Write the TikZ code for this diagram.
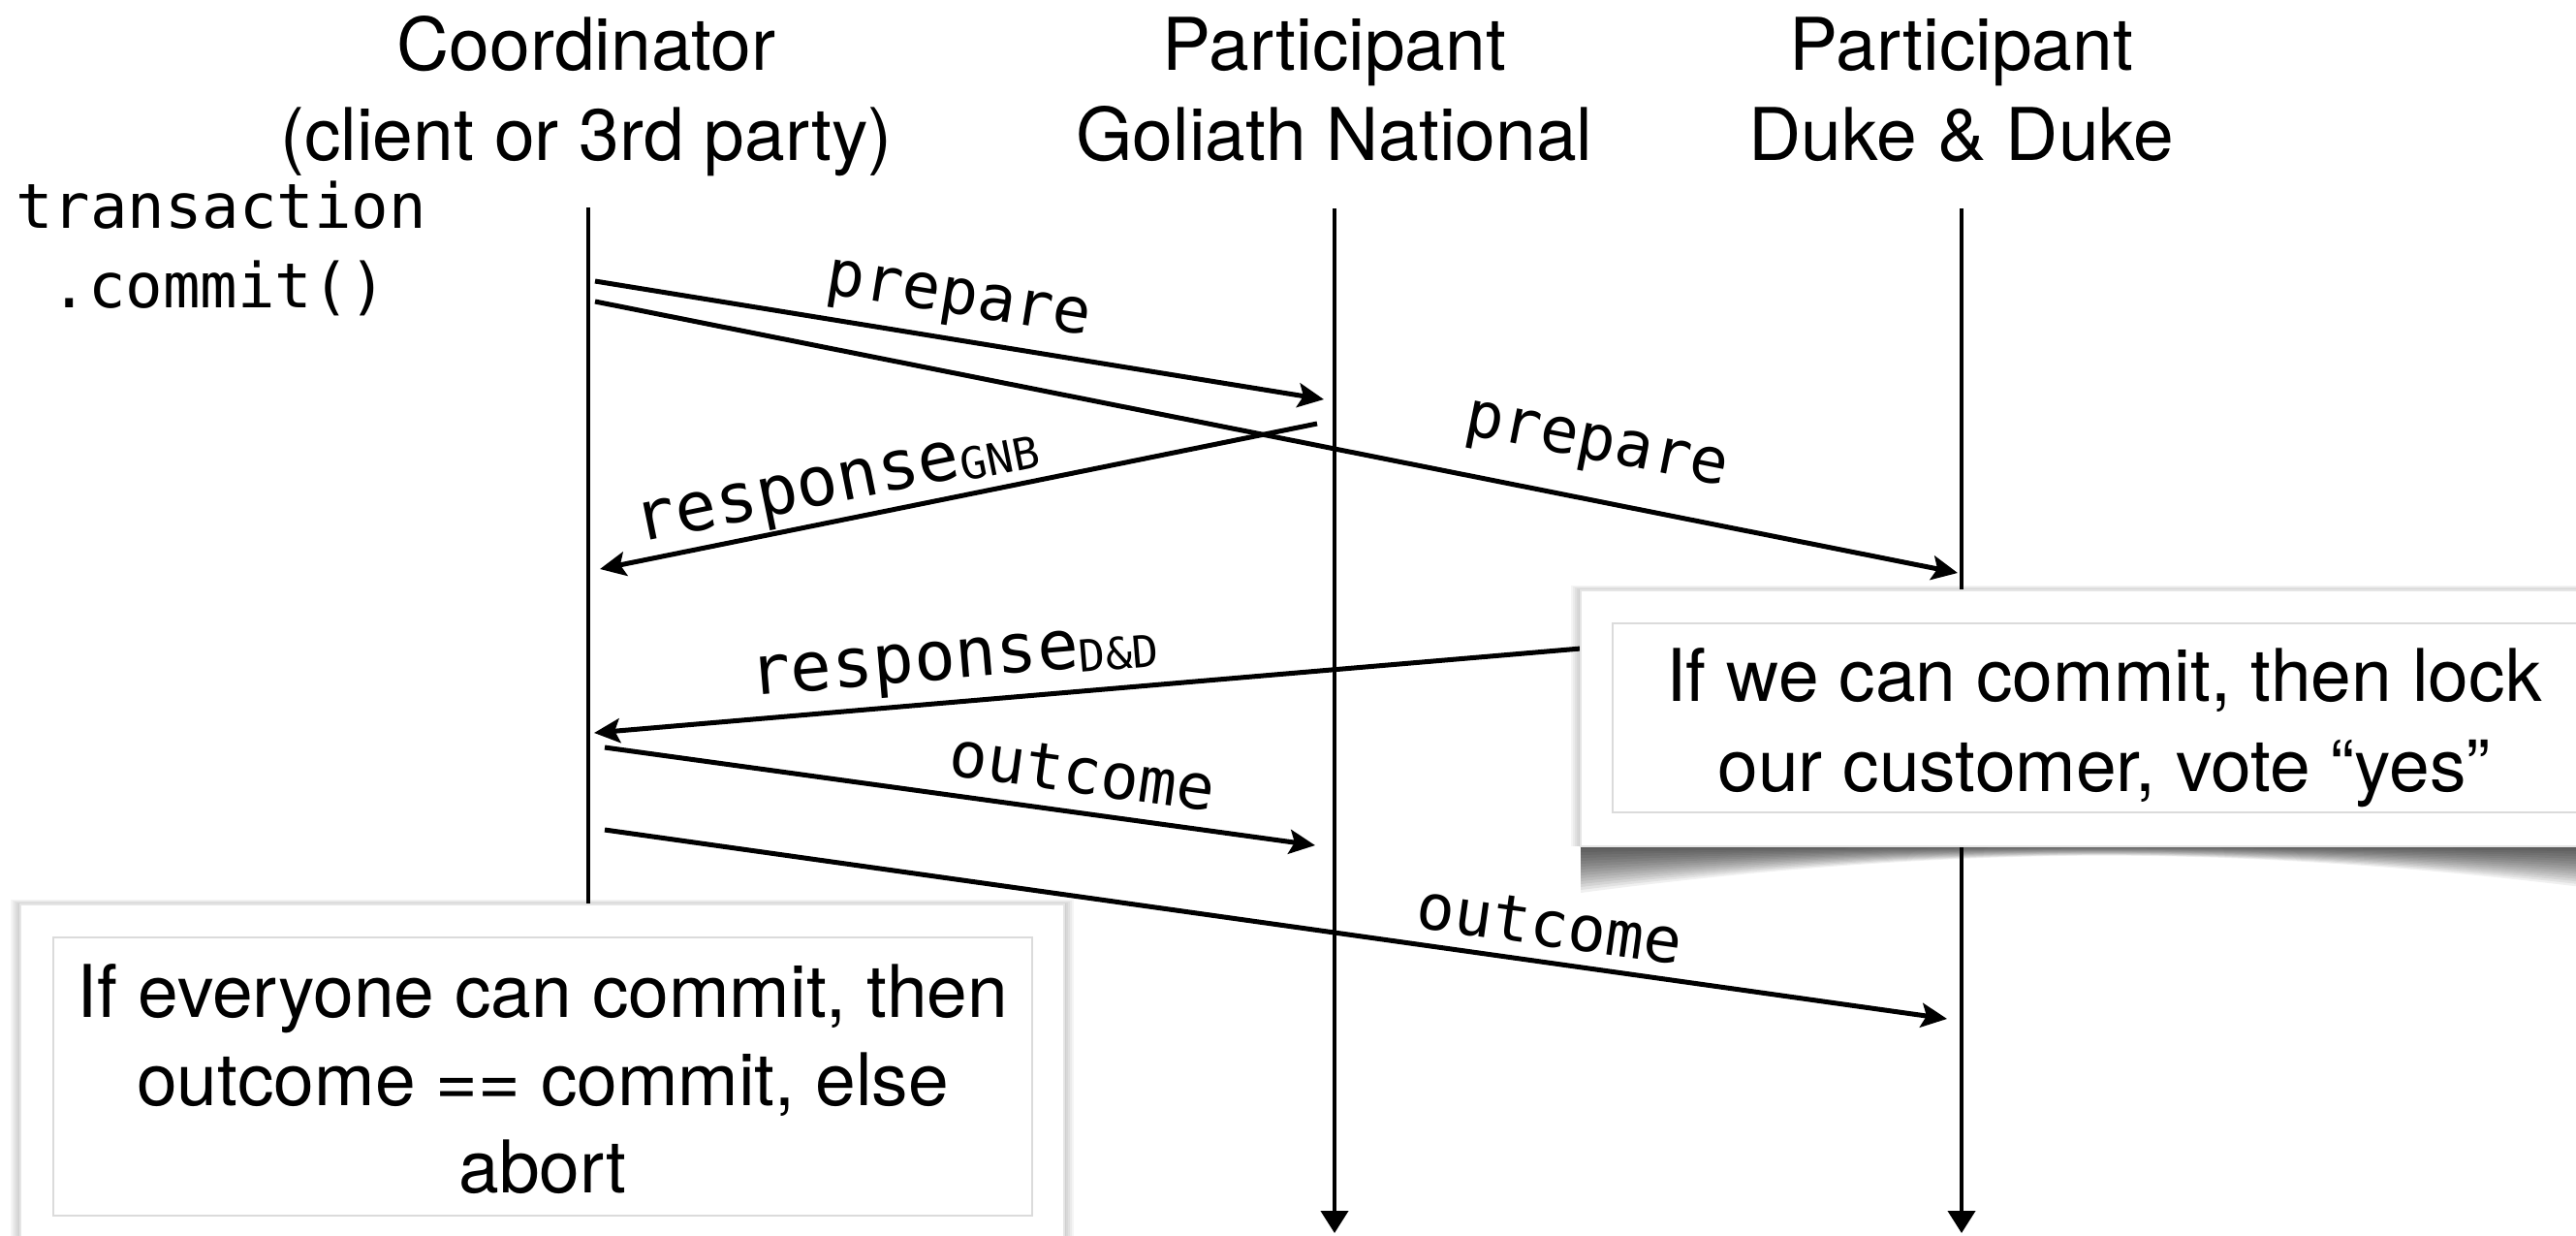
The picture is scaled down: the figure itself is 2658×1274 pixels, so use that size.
\documentclass[tikz,border=0pt]{standalone}
\usepackage{fontspec}
\setmainfont{TeX Gyre Heros}
\newfontfamily\codefont{DejaVu Sans Mono}
\usetikzlibrary{arrows.meta}
\newcommand\sublbl[1]{{\fontsize{13.6}{15}\selectfont\raisebox{-1.5pt}{#1}}}
\begin{document}
\begin{tikzpicture}[x=0.3pt,y=-0.3pt,
  headtext/.style={font=\fontsize{22.5}{27}\selectfont, anchor=base, inner sep=0pt},
  codetext/.style={font=\codefont\fontsize{19.2}{23}\selectfont, anchor=base, inner sep=0pt},
  lifeline/.style={line width=1.2pt},
  lifearrow/.style={lifeline, -{Triangle[length=6.9pt,width=8.4pt]}},
  msg/.style={line width=1.5pt, -{Stealth[length=8pt,width=7.5pt,inset=1.6pt]}},
  msglabel/.style={font=\codefont\fontsize{19.6}{23}\selectfont, sloped, anchor=base, inner sep=0pt},
  resplabel/.style={font=\codefont\fontsize{21.2}{25}\selectfont, sloped, anchor=base, inner sep=0pt},
  outerbox/.style={fill=white, draw=black!10, line width=0.4pt},
  innerbox/.style={draw=black!14, line width=0.6pt},
  shadowlayer/.style={fill=black, opacity=0.04},
  curvelayer/.style={fill=black, opacity=0.06},
]
\fill[white] (0,0) rectangle (2658,1274);
\useasboundingbox (0,0) rectangle (2658,1274);

% headers
\node[headtext] (hC1) at (605,72) {Coordinator};
\node[headtext] (hC2) at (605,165) {(client or 3rd party)};
\node[headtext] (hG1) at (1377,72) {Participant};
\node[headtext] (hG2) at (1377,165) {Goliath National};
\node[headtext] (hD1) at (2024,72) {Participant};
\node[headtext] (hD2) at (2024,165) {Duke \& Duke};
\node[codetext] (tx1) at (228,235) {transaction};
\node[codetext] (tx2) at (226,317) {.commit()};

% shadows of notes
\foreach \k in {1,...,5}
  \fill[shadowlayer] ({21-2*\k},{933-\k}) rectangle ({1098+2*\k},1330);
\foreach \k in {1,...,5}
  \fill[shadowlayer] ({1631-2*\k},{609-\k}) rectangle ({2711+2*\k},873);
\foreach \k in {1,...,16}
  \fill[curvelayer] (1631,873) -- (1631,{873+3*\k})
    .. controls (1800,{873+1.6*\k}) and (1990,{873+0.6*\k}) .. (2171,{873+0.6*\k})
    .. controls (2352,{873+0.6*\k}) and (2542,{873+1.6*\k}) .. (2711,{873+3*\k})
    -- (2711,873) -- cycle;

% lifelines
\coordinate (Ctop) at (607,214);
\coordinate (Cbot) at (607,945);
\coordinate (Gtop) at (1377,215);
\coordinate (Gbot) at (1377,1272);
\coordinate (Dtop) at (2024,215);
\coordinate (Dbot) at (2024,1272);
\draw[lifeline] (Ctop) -- (Cbot);
\draw[lifearrow] (Gtop) -- (Gbot);
\draw[lifearrow] (Dtop) -- (Dbot);

% messages
\coordinate (p1s) at (614,290);  \coordinate (p1e) at (1366,412);
\coordinate (p2s) at (614,311);  \coordinate (p2e) at (2020,591);
\coordinate (rGs) at (1359,437); \coordinate (rGe) at (619,587);
\coordinate (rDs) at (2017,636); \coordinate (rDe) at (613,756);
\coordinate (o1s) at (624,771);  \coordinate (o1e) at (1357,872);
\coordinate (o2s) at (624,856);  \coordinate (o2e) at (2009,1051);

\draw[msg] (p1s) -- node[msglabel, pos=0.49, yshift=7.8pt] (lp1) {prepare} (p1e);
\draw[msg] (p2s) -- node[msglabel, pos=0.727, yshift=12.4pt] (lp2) {prepare} (p2e);
\draw[msg] (rGs) -- node[resplabel, pos=0.66, yshift=5.6pt] (lrG) {response\sublbl{GNB}} (rGe);
\draw[msg] (rDs) -- node[resplabel, pos=0.733, yshift=7.3pt] (lrD) {response\sublbl{D\&D}} (rDe);
\draw[msg] (o1s) -- node[msglabel, pos=0.665, yshift=6pt] (lo1) {outcome} (o1e);
\draw[msg] (o2s) -- node[msglabel, pos=0.7, yshift=5pt] (lo2) {outcome} (o2e);

% right note
\draw[outerbox] (1631,609) rectangle (2711,873);
\draw[innerbox] (1664,643) rectangle (2678,838);
\node[headtext] (nR1) at (2171,723) {If we can commit, then lock};
\node[headtext] (nR2) at (2171,816) {our customer, vote “yes”};

% left note
\draw[outerbox] (21,933) rectangle (1098,1330);
\draw[innerbox] (55,967) rectangle (1065,1254);
\node[headtext] (nL1) at (560,1049) {If everyone can commit, then};
\node[headtext] (nL2) at (560,1140) {outcome == commit, else};
\node[headtext] (nL3) at (560,1230) {abort};
\end{tikzpicture}
\end{document}
